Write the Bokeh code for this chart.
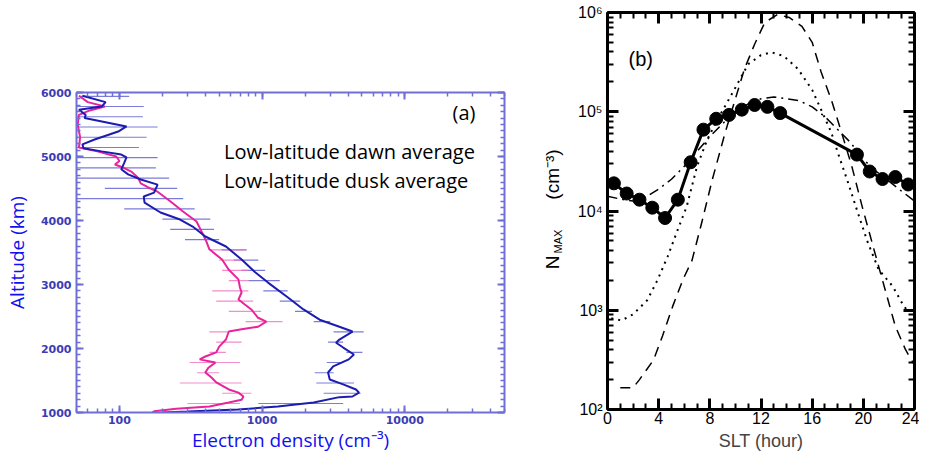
import math
from bokeh.plotting import figure
from bokeh.models import FixedTicker, LogAxis, LinearAxis, Label, CustomJSTickFormatter, Range1d
from bokeh.core.properties import value
from bokeh.layouts import row, column
from bokeh.embed import file_html
from bokeh.resources import INLINE

# ---------------- Panel (a): altitude profiles ----------------
dawn_alt = [5950, 5850, 5780, 5730, 5650, 5600, 5470, 5390, 5265, 5190, 5130, 5080, 5030, 4985, 4900,
            4800, 4720, 4640, 4560, 4435, 4375, 4280, 4125, 4015, 3906, 3750, 3594, 3390, 3190, 3030,
            2800, 2610, 2450, 2340, 2265, 2140, 2090, 2015, 1906, 1830, 1720, 1625, 1515, 1440, 1360,
            1310, 1250, 1240, 1156, 1094, 1047, 1015, 1000]
dawn_ne = [55, 80, 75, 52, 58, 57, 112, 98, 67, 55, 56, 75, 103, 112, 108,
           103, 115, 141, 185, 175, 148, 150, 194, 266, 326, 400, 558, 718, 894, 1100,
           1510, 1950, 2530, 3480, 4300, 3480, 3300, 3700, 4400, 4050, 3150, 2900, 2980, 3700, 4550,
           4780, 4300, 3480, 2300, 1290, 680, 300, 200]

dusk_alt = [5950, 5850, 5780, 5720, 5650, 5500, 5300, 5140, 5080, 5000, 4930, 4875, 4820, 4765, 4670,
            4580, 4520, 4450, 4300, 4140, 3985, 3830, 3670, 3550, 3390, 3230, 3080, 2950, 2875, 2765,
            2610, 2480, 2420, 2340, 2300, 2265, 2140, 2030, 1940, 1875, 1830, 1780, 1700, 1625, 1550,
            1470, 1360, 1310, 1250, 1200, 1156, 1094, 1060, 1020, 1000]
dusk_ne = [52, 60, 79, 62, 52, 51, 53, 52, 70, 95, 100, 93, 108, 121, 135,
           141, 158, 185, 227, 279, 347, 376, 407, 427, 524, 584, 682, 700, 718, 682,
           840, 937, 1070, 937, 718, 584, 558, 500, 477, 400, 365, 470, 420, 400, 440,
           477, 584, 682, 740, 718, 584, 427, 250, 175, 170]

bar_alt_dawn = [1141, 1301, 1461, 1621, 1781, 1941, 2101, 2261, 2421, 2581, 2741, 2901, 3061, 3221, 3381, 3541,
                3701, 3861, 4021, 4181, 4341, 4501, 4661, 4821, 4981, 5141, 5301, 5461, 5621, 5781, 5941]
bar_lo_dawn = [940, 2700, 2400, 2340, 2840, 3900, 2900, 3170, 2300, 1700, 1330, 1020, 800, 718, 633, 520,
               288, 227, 200, 108, 50, 79, 50, 50, 50, 50, 50, 50, 50, 50, 52]
bar_hi_dawn = [3700, 4900, 4400, 3170, 3700, 5050, 3700, 5150, 3000, 2240, 1850, 1510, 1330, 1050, 940, 780,
               500, 460, 433, 337, 280, 254, 223, 180, 185, 137, 155, 185, 146, 148, 117]

bar_alt_dusk = [1141, 1301, 1461, 1621, 1781, 1941, 2101, 2261, 2421, 2581, 2741, 2901, 3061, 3221, 3381, 3541]
bar_lo_dusk = [300, 524, 265, 350, 310, 427, 477, 427, 765, 584, 477, 447, 584, 524, 500, 427]
bar_hi_dusk = [700, 840, 718, 500, 700, 558, 718, 584, 1390, 985, 865, 800, 800, 800, 718, 765]

a_xticks = [100, 1000, 10000]
a_yticks = [1000, 2000, 3000, 4000, 5000, 6000]

# ---------------- Panel (b): NMAX vs SLT ----------------
obs_slt = [0.5, 1.5, 2.5, 3.5, 4.5, 5.5, 6.5, 7.5, 8.5, 9.5, 10.5, 11.5, 12.5, 13.5, 19.5, 20.5, 21.5, 22.5, 23.5]
obs_nmax = [1.9e4, 1.5e4, 1.3e4, 1.08e4, 8.5e3, 1.3e4, 3.1e4, 6.6e4, 8.5e4, 9.3e4, 1.05e5, 1.17e5, 1.12e5,
            9.7e4, 3.7e4, 2.5e4, 2.1e4, 2.2e4, 1.85e4]

dash_slt = [1.0, 2.0, 2.5, 3.6, 4.3, 5.1, 5.9, 6.6, 7.4, 8.2, 9.2, 10.7, 11.5, 12.3, 13.3, 14.2, 15.2, 16.0,
            16.7, 17.5, 18.3, 19.1, 19.9, 20.9, 21.7, 22.5, 23.3, 24.0]
dash_nmax = [166, 166, 200, 316, 550, 1100, 2040, 3160, 7940, 20900, 61700, 269000, 479000, 794000, 955000,
             891000, 724000, 501000, 251000, 132000, 61700, 28200, 11200, 3800, 1620, 690, 400, 280]

dot_slt = [0.3, 1.1, 2.0, 3.1, 3.9, 4.7, 5.4, 6.2, 7.0, 7.8, 8.6, 9.9, 11.0, 12.0, 12.8, 13.8, 14.9, 16.0,
           16.7, 17.5, 18.0, 18.9, 19.4, 20.3, 21.2, 22.3, 23.0, 23.5]
dot_nmax = [830, 790, 910, 1260, 2000, 3470, 6030, 11200, 28200, 52500, 83200, 166000, 302000, 372000, 398000,
            363000, 269000, 166000, 105000, 61700, 38900, 17800, 11200, 5010, 2570, 1740, 1200, 955]

dd_slt = [0, 1, 2, 3, 4, 5, 6, 7, 8, 9, 10, 11, 12, 13, 14, 15, 16, 17, 18, 19, 20, 21, 22, 23, 24]
dd_nmax = [14100, 13200, 12600, 13800, 16600, 20900, 28200, 39800, 56200, 75900, 100000, 120000, 135000,
           141000, 135000, 129000, 112000, 89100, 66100, 49000, 33100, 25100, 20000, 15800, 12600]

b_xticks = [0, 4, 8, 12, 16, 20, 24]
b_yticks = [1e2, 1e3, 1e4, 1e5, 1e6]

blank = CustomJSTickFormatter(code="return '';")
TXT = "Open Sans"
H = 455

# ======================= Figure (a) =======================
AX = "#6f6fd6"
TL = "#3c3cb4"
pa = figure(width=532, height=H, x_axis_type="log", x_range=Range1d(50, 50000), y_range=Range1d(1000, 6000),
            output_backend="svg", toolbar_location=None,
            min_border_left=67, min_border_right=28, min_border_top=92, min_border_bottom=43)
pa.xgrid.visible = False
pa.ygrid.visible = False
pa.outline_line_color = None
pa.background_fill_color = "white"

a_minor_x = [m * 10 ** d for d in range(1, 5) for m in range(1, 10) if 50 <= m * 10 ** d <= 50000]
a_minor_y = list(range(1000, 6001, 100))

def style_a(ax):
    ax.axis_line_color = AX
    ax.axis_line_width = 2
    ax.major_tick_line_color = AX
    ax.minor_tick_line_color = AX
    ax.major_tick_line_width = 2
    ax.minor_tick_line_width = 1.5
    ax.major_tick_in = 7
    ax.major_tick_out = 0
    ax.minor_tick_in = 4
    ax.minor_tick_out = 0
    ax.major_label_text_color = TL
    ax.major_label_text_font = "DejaVu Sans"
    ax.major_label_text_font_style = "bold"
    ax.major_label_text_font_size = "11px"

pa.xaxis.ticker = FixedTicker(ticks=a_xticks, minor_ticks=a_minor_x)
pa.xaxis.formatter = CustomJSTickFormatter(code="return tick.toFixed(0);")
pa.yaxis.ticker = FixedTicker(ticks=a_yticks, minor_ticks=a_minor_y)
style_a(pa.xaxis[0])
style_a(pa.yaxis[0])
pa.xaxis.major_label_standoff = 3
pa.yaxis.major_label_standoff = 5
pa.xaxis.axis_label = "Electron density (cm\u207b\u00b3)"
pa.yaxis.axis_label = "Altitude (km)"
for ax in (pa.xaxis[0], pa.yaxis[0]):
    ax.axis_label_text_color = "#1010f0"
    ax.axis_label_text_font = TXT
    ax.axis_label_text_font_style = "normal"
pa.xaxis.axis_label_text_font_size = "19px"
pa.yaxis.axis_label_text_font_size = "19px"
pa.xaxis.axis_label_standoff = 0
pa.yaxis.axis_label_standoff = 8

top_a = LogAxis(ticker=FixedTicker(ticks=a_xticks, minor_ticks=a_minor_x), formatter=blank)
style_a(top_a)
top_a.major_label_standoff = 0
pa.add_layout(top_a, "above")
right_a = LinearAxis(ticker=FixedTicker(ticks=a_yticks, minor_ticks=a_minor_y), formatter=blank)
style_a(right_a)
right_a.major_label_standoff = 0
pa.add_layout(right_a, "right")

pa.segment(x0=bar_lo_dawn, y0=bar_alt_dawn, x1=bar_hi_dawn, y1=bar_alt_dawn, line_color="#5a5ad0", line_width=1.2, line_alpha=0.8)
pa.segment(x0=bar_lo_dusk, y0=bar_alt_dusk, x1=bar_hi_dusk, y1=bar_alt_dusk, line_color="#f070c0", line_width=1.2, line_alpha=0.8)
pa.line(dusk_ne, dusk_alt, line_color="#e8249c", line_width=2)
pa.line(dawn_ne, dawn_alt, line_color="#1c1cb0", line_width=2)

pa.add_layout(Label(x=26000, y=5687, text="(a)", text_font=TXT, text_font_size="20px", text_color="black",
                    text_align="center", text_baseline="middle"))
pa.add_layout(Label(x=541, y=5078, text="Low-latitude dawn average", text_font=TXT, text_font_size="20px",
                    text_color="black", text_align="left", text_baseline="middle"))
pa.add_layout(Label(x=541, y=4625, text="Low-latitude dusk average", text_font=TXT, text_font_size="20px",
                    text_color="black", text_align="left", text_baseline="middle"))

# ============ narrow strip holding the y-axis title of panel (b) ============
lab = figure(width=40, height=H, x_range=Range1d(0, 40), y_range=Range1d(H, 0),
             output_backend="svg", toolbar_location=None, min_border=0)
lab.axis.visible = False
lab.grid.visible = False
lab.outline_line_color = None
lab.text(x=[20], y=[262], text=["N"], angle=math.pi / 2, text_font=value("Liberation Sans"),
         text_font_size="19px", text_align="center", text_baseline="middle", text_color="black")
lab.text(x=[25], y=[241], text=["MAX"], angle=math.pi / 2, text_font=value("Liberation Sans"),
         text_font_size="11px", text_align="center", text_baseline="middle", text_color="black")
lab.text(x=[20], y=[174], text=["(cm\u207b\u00b3)"], angle=math.pi / 2, text_font=value("Liberation Sans"),
         text_font_size="19px", text_align="center", text_baseline="middle", text_color="black")

# ======================= Figure (b) =======================
pb = figure(width=347, height=H, y_axis_type="log", x_range=Range1d(0, 24), y_range=Range1d(100, 1e6),
            output_backend="svg", toolbar_location=None,
            min_border_left=35, min_border_right=5, min_border_top=12, min_border_bottom=46)
pb.xgrid.visible = False
pb.ygrid.visible = False
pb.outline_line_color = None

b_minor_x = list(range(0, 25))
b_minor_y = [m * 10 ** d for d in range(2, 6) for m in range(1, 10)] + [1e6]

sup = CustomJSTickFormatter(code="const s={2:'\u00b2',3:'\u00b3',4:'\u2074',5:'\u2075',6:'\u2076'}; const k=Math.round(Math.log10(tick)); return '10'+(s[k]||'');")

def style_b(ax):
    ax.axis_line_color = "black"
    ax.axis_line_width = 3
    ax.major_tick_line_color = "black"
    ax.minor_tick_line_color = "black"
    ax.major_tick_line_width = 3
    ax.minor_tick_line_width = 2
    ax.major_tick_in = 11
    ax.major_tick_out = 0
    ax.minor_tick_in = 6
    ax.minor_tick_out = 0
    ax.major_label_text_color = "black"
    ax.major_label_text_font = "Liberation Sans"
    ax.major_label_text_font_size = "16px"

pb.xaxis.ticker = FixedTicker(ticks=b_xticks, minor_ticks=b_minor_x)
pb.yaxis.ticker = FixedTicker(ticks=b_yticks, minor_ticks=b_minor_y)
pb.yaxis.formatter = sup
style_b(pb.xaxis[0])
style_b(pb.yaxis[0])
pb.xaxis.major_label_standoff = 2
pb.yaxis.major_label_standoff = 5
pb.xaxis.axis_label = "SLT (hour)"
pb.xaxis.axis_label_text_font = "Liberation Sans"
pb.xaxis.axis_label_text_font_style = "normal"
pb.xaxis.axis_label_text_font_size = "18px"
pb.xaxis.axis_label_standoff = 4

top_b = LinearAxis(ticker=FixedTicker(ticks=b_xticks, minor_ticks=b_minor_x), formatter=blank)
style_b(top_b)
top_b.major_label_standoff = 0
pb.add_layout(top_b, "above")
right_b = LogAxis(ticker=FixedTicker(ticks=b_yticks, minor_ticks=b_minor_y), formatter=blank)
style_b(right_b)
right_b.major_label_standoff = 0
pb.add_layout(right_b, "right")

pb.line(dash_slt, dash_nmax, line_color="black", line_width=1.5, line_dash="10 7")
pb.line(dot_slt, dot_nmax, line_color="black", line_width=2, line_dash="2 5")
pb.line(dd_slt, dd_nmax, line_color="black", line_width=1.5, line_dash="10 5 2 5")
pb.line(obs_slt, obs_nmax, line_color="black", line_width=3)
pb.scatter(obs_slt, obs_nmax, size=13, marker="circle", fill_color="black", line_color="black")

pb.add_layout(Label(x=2.6, y=10 ** 5.53, text="(b)", text_font="Liberation Sans", text_font_size="20px",
                    text_color="black", text_align="center", text_baseline="middle"))

layout = row(column(pa), column(lab), column(pb))
open("out.html", "w").write(file_html(layout, INLINE))
